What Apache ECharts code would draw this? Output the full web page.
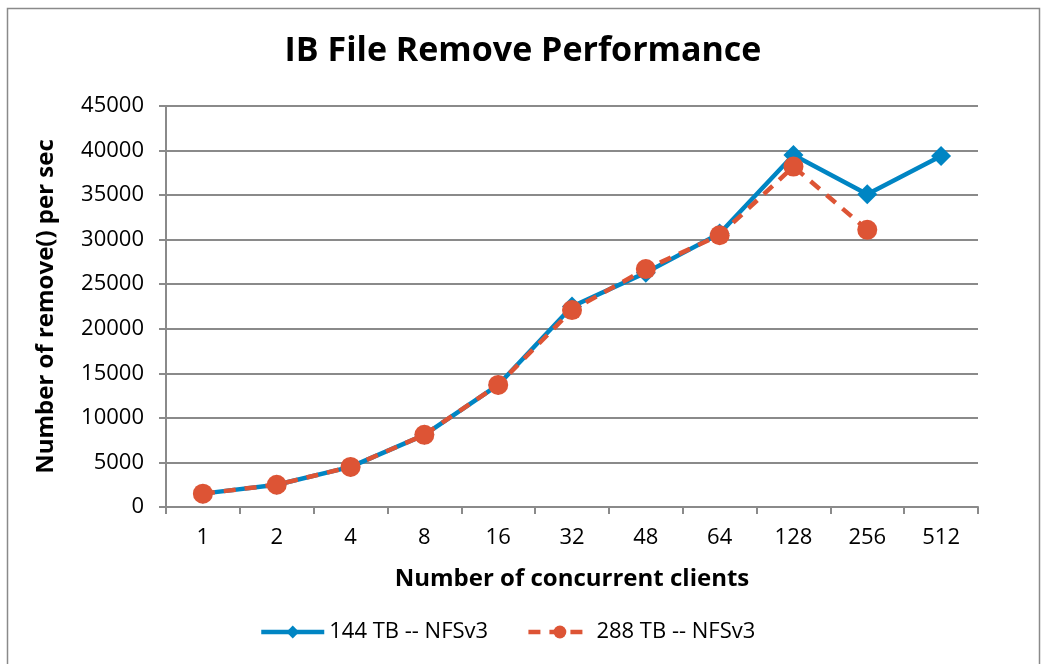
<!DOCTYPE html>
<html><head><meta charset="utf-8">
<script src="https://cdn.jsdelivr.net/npm/echarts@6/dist/echarts.min.js"></script>
<style>html,body{margin:0;padding:0;background:#fff}#c{width:1046px;height:664px}</style>
</head><body><div id="c"></div>
<script>
var categories = ['1','2','4','8','16','32','48','64','128','256','512'];
var series144 = [1500, 2500, 4500, 8100, 13700, 22500, 26300, 30700, 39500, 35100, 39400];
var series288 = [1500, 2500, 4500, 8100, 13700, 22100, 26700, 30500, 38200, 31100, null];
var yTicks = [0, 5000, 10000, 15000, 20000, 25000, 30000, 35000, 40000, 45000];
var FONT = 'Open Sans';
var chart = echarts.init(document.getElementById('c'));
chart.setOption({
  animation: false,
  backgroundColor: '#fff',
  graphic: [{type:'rect', shape:{x:7.5,y:8.5,width:1032,height:670}, style:{fill:'none', stroke:'#8a8a8a', lineWidth:1.5}, silent:true}],
  title: {text:'IB File Remove Performance', left:'center', top:29, textStyle:{fontFamily:FONT, fontSize:34, fontWeight:'bold', color:'#000'}},
  grid: {left:166, right:68, top:106, bottom:157},
  legend: {bottom:16, left:254, itemWidth:63, itemHeight:16, itemGap:38, textStyle:{fontFamily:FONT, fontSize:22, color:'#000'},
    lineStyle:{width:4.5},
    data:['144 TB -- NFSv3','288 TB -- NFSv3']},
  xAxis: {type:'category', data:categories, boundaryGap:true,
    name:'Number of concurrent clients', nameLocation:'middle', nameGap:60,
    nameTextStyle:{fontFamily:FONT, fontSize:24, fontWeight:'bold', color:'#000'},
    axisLine:{lineStyle:{color:'#8a8a8a', width:2}},
    axisTick:{show:true, length:7, alignWithLabel:false, lineStyle:{color:'#8a8a8a', width:2}},
    axisLabel:{fontFamily:FONT, fontSize:22, color:'#000', margin:20}},
  yAxis: {type:'value', min:yTicks[0], max:yTicks[yTicks.length-1], interval:5000,
    name:'Number of remove() per sec', nameLocation:'middle', nameGap:108,
    nameTextStyle:{fontFamily:FONT, fontSize:24, fontWeight:'bold', color:'#000'},
    axisLine:{show:true, lineStyle:{color:'#8a8a8a', width:2}},
    axisTick:{show:true, length:7, lineStyle:{color:'#8a8a8a', width:2}},
    axisLabel:{fontFamily:FONT, fontSize:22, color:'#000', margin:22, formatter:function(v){return String(v);}},
    splitLine:{lineStyle:{color:'#8a8a8a', width:2}}},
  series: [
    {name:'144 TB -- NFSv3', type:'line', data:series144, symbol:'diamond', symbolSize:20,
      itemStyle:{color:'#0085C3'}, lineStyle:{color:'#0085C3', width:4.5}, z:2},
    {name:'288 TB -- NFSv3', type:'line', data:series288, symbol:'circle', symbolSize:20,
      itemStyle:{color:'#DD5435'}, lineStyle:{color:'#DD5435', width:4.5, type:[12,9]}, z:3}
  ]
});
</script></body></html>
